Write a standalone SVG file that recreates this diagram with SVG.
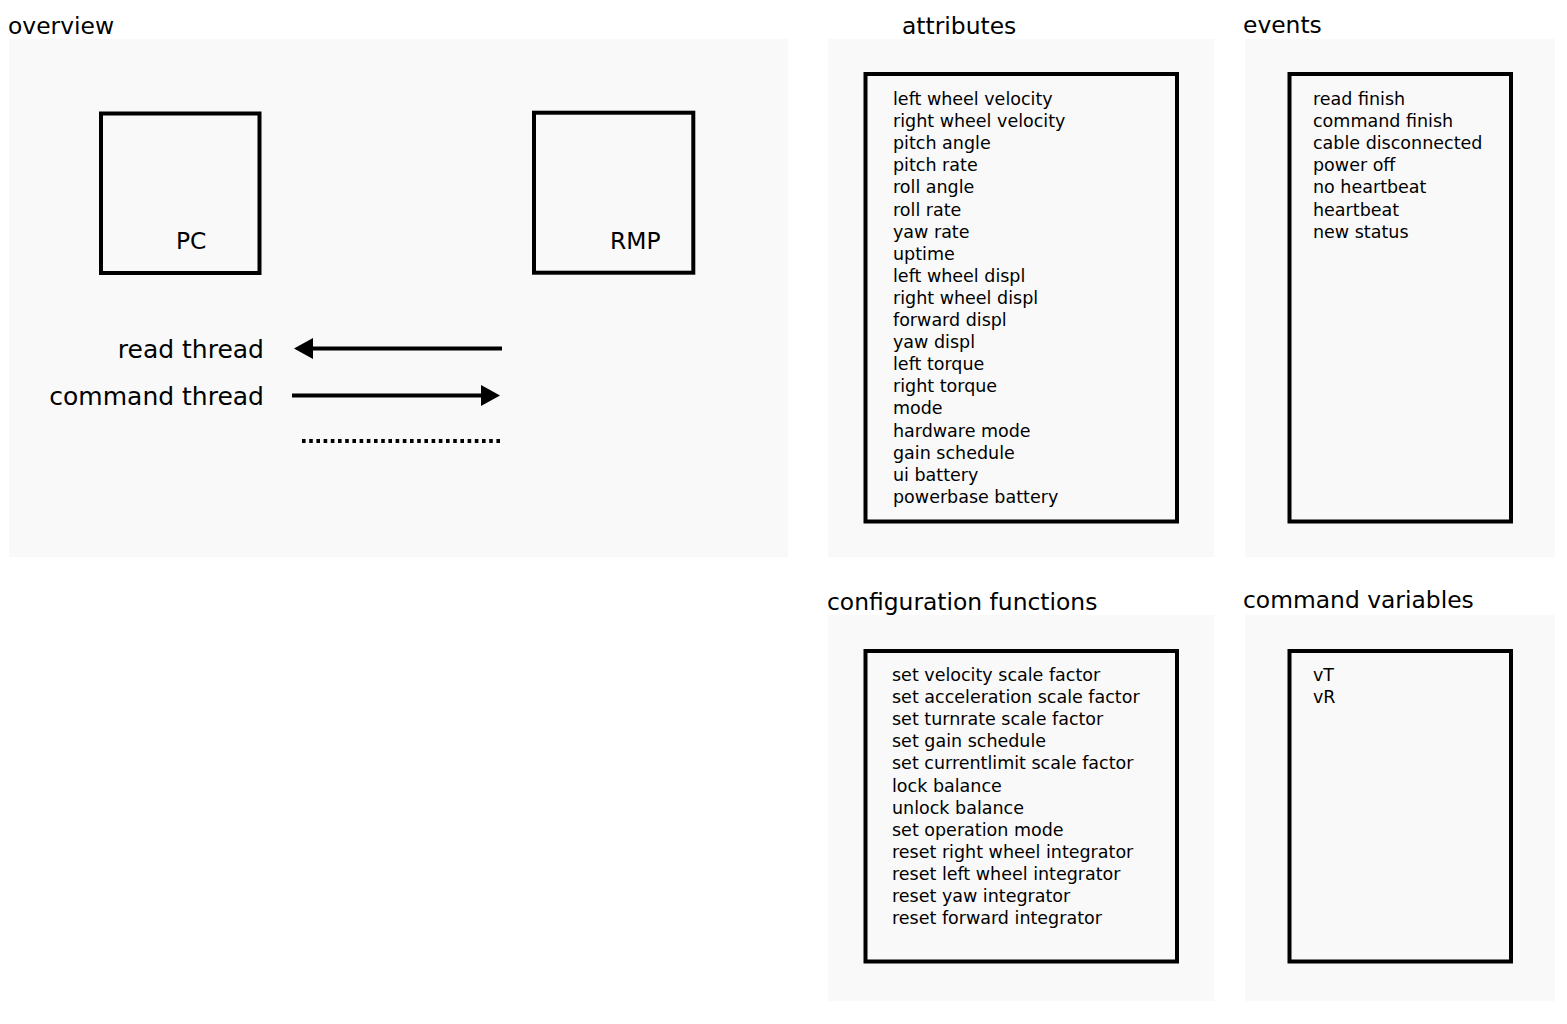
<svg xmlns="http://www.w3.org/2000/svg" width="1567" height="1024" viewBox="0 0 1567 1024">
<style>
  .panel { fill: #f9f9f9; stroke: none; }
  .box { fill: none; stroke: #000; stroke-width: 4; }
  .title { font-family: "DejaVu Sans", sans-serif; font-size: 23.4px; fill: #000; }
  .big { font-family: "DejaVu Sans", sans-serif; font-size: 25px; fill: #000; }
  .item { font-family: "DejaVu Sans", sans-serif; font-size: 17.5px; fill: #000; }
  .conn { stroke: #000; stroke-width: 4; fill: none; }
</style>
<defs>
  <marker id="ah" markerUnits="userSpaceOnUse" markerWidth="20" markerHeight="22" refX="1" refY="10.5" orient="auto">
    <path d="M0,0 L19,10.5 L0,21 z" fill="#000"/>
  </marker>
</defs>
<rect width="1567" height="1024" fill="#fff"/>

<g id="overview">
  <text class="title" x="8" y="34">overview</text>
  <rect class="panel" x="9" y="39" width="779" height="518"/>
</g>
<g id="node-pc">
  <rect class="box" x="101" y="113.5" width="158.5" height="159.5"/>
  <text class="big" x="176" y="249" style="font-size:23.4px">PC</text>
</g>
<g id="node-rmp">
  <rect class="box" x="534" y="112.7" width="159.3" height="160"/>
  <text class="big" x="610" y="248.5" style="font-size:23.4px">RMP</text>
</g>
<g id="legend-labels">
  <text class="big" x="264" y="357.5" text-anchor="end">read thread</text>
  <text class="big" x="264" y="404.5" text-anchor="end">command thread</text>
</g>
<g id="connectors">
  <line class="conn" x1="502" y1="348.5" x2="312" y2="348.5" marker-end="url(#ah)"/>
  <line class="conn" x1="292" y1="395.5" x2="482" y2="395.5" marker-end="url(#ah)"/>
  <line class="conn" x1="302" y1="441" x2="500" y2="441" stroke-dasharray="3.6 3.6"/>
</g>

<g id="attributes">
  <text class="title" x="902" y="34">attributes</text>
  <rect class="panel" x="828" y="39" width="386" height="518"/>
  <rect class="box" x="865.5" y="74" width="311.5" height="447.5"/>
  <text class="item" x="893" y="105">
    <tspan x="893" dy="0">left wheel velocity</tspan>
    <tspan x="893" dy="22.1">right wheel velocity</tspan>
    <tspan x="893" dy="22.1">pitch angle</tspan>
    <tspan x="893" dy="22.1">pitch rate</tspan>
    <tspan x="893" dy="22.1">roll angle</tspan>
    <tspan x="893" dy="22.1">roll rate</tspan>
    <tspan x="893" dy="22.1">yaw rate</tspan>
    <tspan x="893" dy="22.1">uptime</tspan>
    <tspan x="893" dy="22.1">left wheel displ</tspan>
    <tspan x="893" dy="22.1">right wheel displ</tspan>
    <tspan x="893" dy="22.1">forward displ</tspan>
    <tspan x="893" dy="22.1">yaw displ</tspan>
    <tspan x="893" dy="22.1">left torque</tspan>
    <tspan x="893" dy="22.1">right torque</tspan>
    <tspan x="893" dy="22.1">mode</tspan>
    <tspan x="893" dy="22.1">hardware mode</tspan>
    <tspan x="893" dy="22.1">gain schedule</tspan>
    <tspan x="893" dy="22.1">ui battery</tspan>
    <tspan x="893" dy="22.1">powerbase battery</tspan>
  </text>
</g>

<g id="events">
  <text class="title" x="1243" y="33">events</text>
  <rect class="panel" x="1245" y="39" width="310" height="518"/>
  <rect class="box" x="1289.5" y="74" width="221.5" height="447.5"/>
  <text class="item" x="1313" y="105">
    <tspan x="1313" dy="0">read finish</tspan>
    <tspan x="1313" dy="22.1">command finish</tspan>
    <tspan x="1313" dy="22.1">cable disconnected</tspan>
    <tspan x="1313" dy="22.1">power off</tspan>
    <tspan x="1313" dy="22.1">no heartbeat</tspan>
    <tspan x="1313" dy="22.1">heartbeat</tspan>
    <tspan x="1313" dy="22.1">new status</tspan>
  </text>
</g>

<g id="configuration-functions">
  <text class="title" x="827" y="610">configuration functions</text>
  <rect class="panel" x="828" y="615" width="386" height="386"/>
  <rect class="box" x="865.5" y="651" width="311.5" height="310.5"/>
  <text class="item" x="892" y="681">
    <tspan x="892" dy="0">set velocity scale factor</tspan>
    <tspan x="892" dy="22.1">set acceleration scale factor</tspan>
    <tspan x="892" dy="22.1">set turnrate scale factor</tspan>
    <tspan x="892" dy="22.1">set gain schedule</tspan>
    <tspan x="892" dy="22.1">set currentlimit scale factor</tspan>
    <tspan x="892" dy="22.1">lock balance</tspan>
    <tspan x="892" dy="22.1">unlock balance</tspan>
    <tspan x="892" dy="22.1">set operation mode</tspan>
    <tspan x="892" dy="22.1">reset right wheel integrator</tspan>
    <tspan x="892" dy="22.1">reset left wheel integrator</tspan>
    <tspan x="892" dy="22.1">reset yaw integrator</tspan>
    <tspan x="892" dy="22.1">reset forward integrator</tspan>
  </text>
</g>

<g id="command-variables">
  <text class="title" x="1243" y="608">command variables</text>
  <rect class="panel" x="1245" y="615" width="310" height="386"/>
  <rect class="box" x="1289.5" y="651" width="221.5" height="310.5"/>
  <text class="item" x="1313" y="681">
    <tspan x="1313" dy="0">vT</tspan>
    <tspan x="1313" dy="22.1">vR</tspan>
  </text>
</g>
</svg>
